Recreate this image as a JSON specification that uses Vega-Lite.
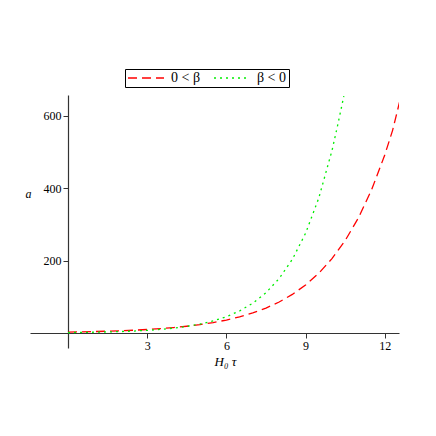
{
  "$schema": "https://vega.github.io/schema/vega-lite/v6.json",
  "width": 369,
  "height": 253,
  "autosize": {"type": "none"},
  "padding": {"left": 30, "top": 95, "right": 37, "bottom": 88},
  "background": "white",
  "config": {
    "view": {"stroke": null},
    "font": "Liberation Serif",
    "axis": {"grid": false, "domainColor": "#333", "tickColor": "#333", "labelColor": "black", "labelFont": "Liberation Serif", "labelFontSize": 12, "titleFont": "Liberation Serif", "titleFontWeight": "normal", "titleColor": "black", "tickSize": 5, "domainWidth": 1.2}
  },
  "data": {"values": [
    {"t": 0, "a": 2.6, "s": "0 < β"}, {"t": 0.5, "a": 3.23, "s": "0 < β"}, {"t": 1, "a": 4.02, "s": "0 < β"}, {"t": 1.5, "a": 5.0, "s": "0 < β"}, {"t": 2, "a": 6.23, "s": "0 < β"}, {"t": 2.5, "a": 7.75, "s": "0 < β"}, {"t": 3, "a": 9.64, "s": "0 < β"}, {"t": 3.5, "a": 12.0, "s": "0 < β"}, {"t": 4, "a": 14.9, "s": "0 < β"}, {"t": 4.5, "a": 18.6, "s": "0 < β"}, {"t": 5, "a": 23.1, "s": "0 < β"}, {"t": 5.5, "a": 28.7, "s": "0 < β"}, {"t": 6, "a": 35.8, "s": "0 < β"}, {"t": 6.5, "a": 44.5, "s": "0 < β"}, {"t": 7, "a": 55.4, "s": "0 < β"}, {"t": 7.5, "a": 68.9, "s": "0 < β"}, {"t": 8, "a": 85.7, "s": "0 < β"}, {"t": 8.5, "a": 106.6, "s": "0 < β"}, {"t": 9, "a": 132.7, "s": "0 < β"}, {"t": 9.5, "a": 165.1, "s": "0 < β"}, {"t": 10, "a": 205.4, "s": "0 < β"}, {"t": 10.5, "a": 255.6, "s": "0 < β"}, {"t": 11, "a": 318, "s": "0 < β"}, {"t": 11.5, "a": 395.6, "s": "0 < β"}, {"t": 12, "a": 492, "s": "0 < β"}, {"t": 12.3, "a": 561, "s": "0 < β"}, {"t": 12.6, "a": 650, "s": "0 < β"},
    {"t": 0, "a": 1.2, "s": "β < 0"}, {"t": 0.5, "a": 1.62, "s": "β < 0"}, {"t": 1, "a": 2.19, "s": "β < 0"}, {"t": 1.5, "a": 2.97, "s": "β < 0"}, {"t": 2, "a": 4.02, "s": "β < 0"}, {"t": 2.5, "a": 5.43, "s": "β < 0"}, {"t": 3, "a": 7.35, "s": "β < 0"}, {"t": 3.5, "a": 9.94, "s": "β < 0"}, {"t": 4, "a": 13.4, "s": "β < 0"}, {"t": 4.5, "a": 18.2, "s": "β < 0"}, {"t": 5, "a": 24.6, "s": "β < 0"}, {"t": 5.5, "a": 33.3, "s": "β < 0"}, {"t": 6, "a": 45.0, "s": "β < 0"}, {"t": 6.5, "a": 60.9, "s": "β < 0"}, {"t": 7, "a": 82.3, "s": "β < 0"}, {"t": 7.5, "a": 111.4, "s": "β < 0"}, {"t": 8, "a": 150.6, "s": "β < 0"}, {"t": 8.5, "a": 203.7, "s": "β < 0"}, {"t": 9, "a": 275.6, "s": "β < 0"}, {"t": 9.5, "a": 372.8, "s": "β < 0"}, {"t": 10, "a": 504, "s": "β < 0"}, {"t": 10.2, "a": 569, "s": "β < 0"}, {"t": 10.45, "a": 655, "s": "β < 0"}
  ]},
  "mark": {"type": "line", "strokeWidth": 1.3, "clip": true},
  "encoding": {
    "x": {"field": "t", "type": "quantitative", "scale": {"domain": [-1.44, 12.54], "nice": false, "zero": false},
      "axis": {"values": [3, 6, 9, 12], "offset": -15, "title": "H₀ τ", "titleFontSize": 13, "titleFontStyle": "italic", "titlePadding": 4, "titleX": 195, "labelPadding": 2}},
    "y": {"field": "a", "type": "quantitative", "scale": {"domain": [-41.5, 658], "nice": false, "zero": false},
      "axis": {"values": [200, 400, 600], "offset": -38, "title": "a", "titleAngle": 0, "titleFontStyle": "italic", "titleFontSize": 12, "titleX": -40, "titleY": 105, "labelPadding": 2}},
    "color": {"field": "s", "type": "nominal", "scale": {"domain": ["0 < β", "β < 0"], "range": ["#ff0000", "#00ee00"]},
      "legend": {"title": null, "orient": "none", "legendX": 95, "legendY": -26, "direction": "horizontal", "strokeColor": "black", "padding": 2, "symbolType": "M-1,0H5", "symbolSize": 144, "symbolStrokeWidth": 1.5, "labelFontSize": 14, "labelFont": "Liberation Serif", "columnPadding": 10, "labelOffset": 30}},
    "strokeDash": {"field": "s", "type": "nominal", "scale": {"domain": ["0 < β", "β < 0"], "range": [[9, 5], [2, 4]]}, "legend": null}
  }
}
